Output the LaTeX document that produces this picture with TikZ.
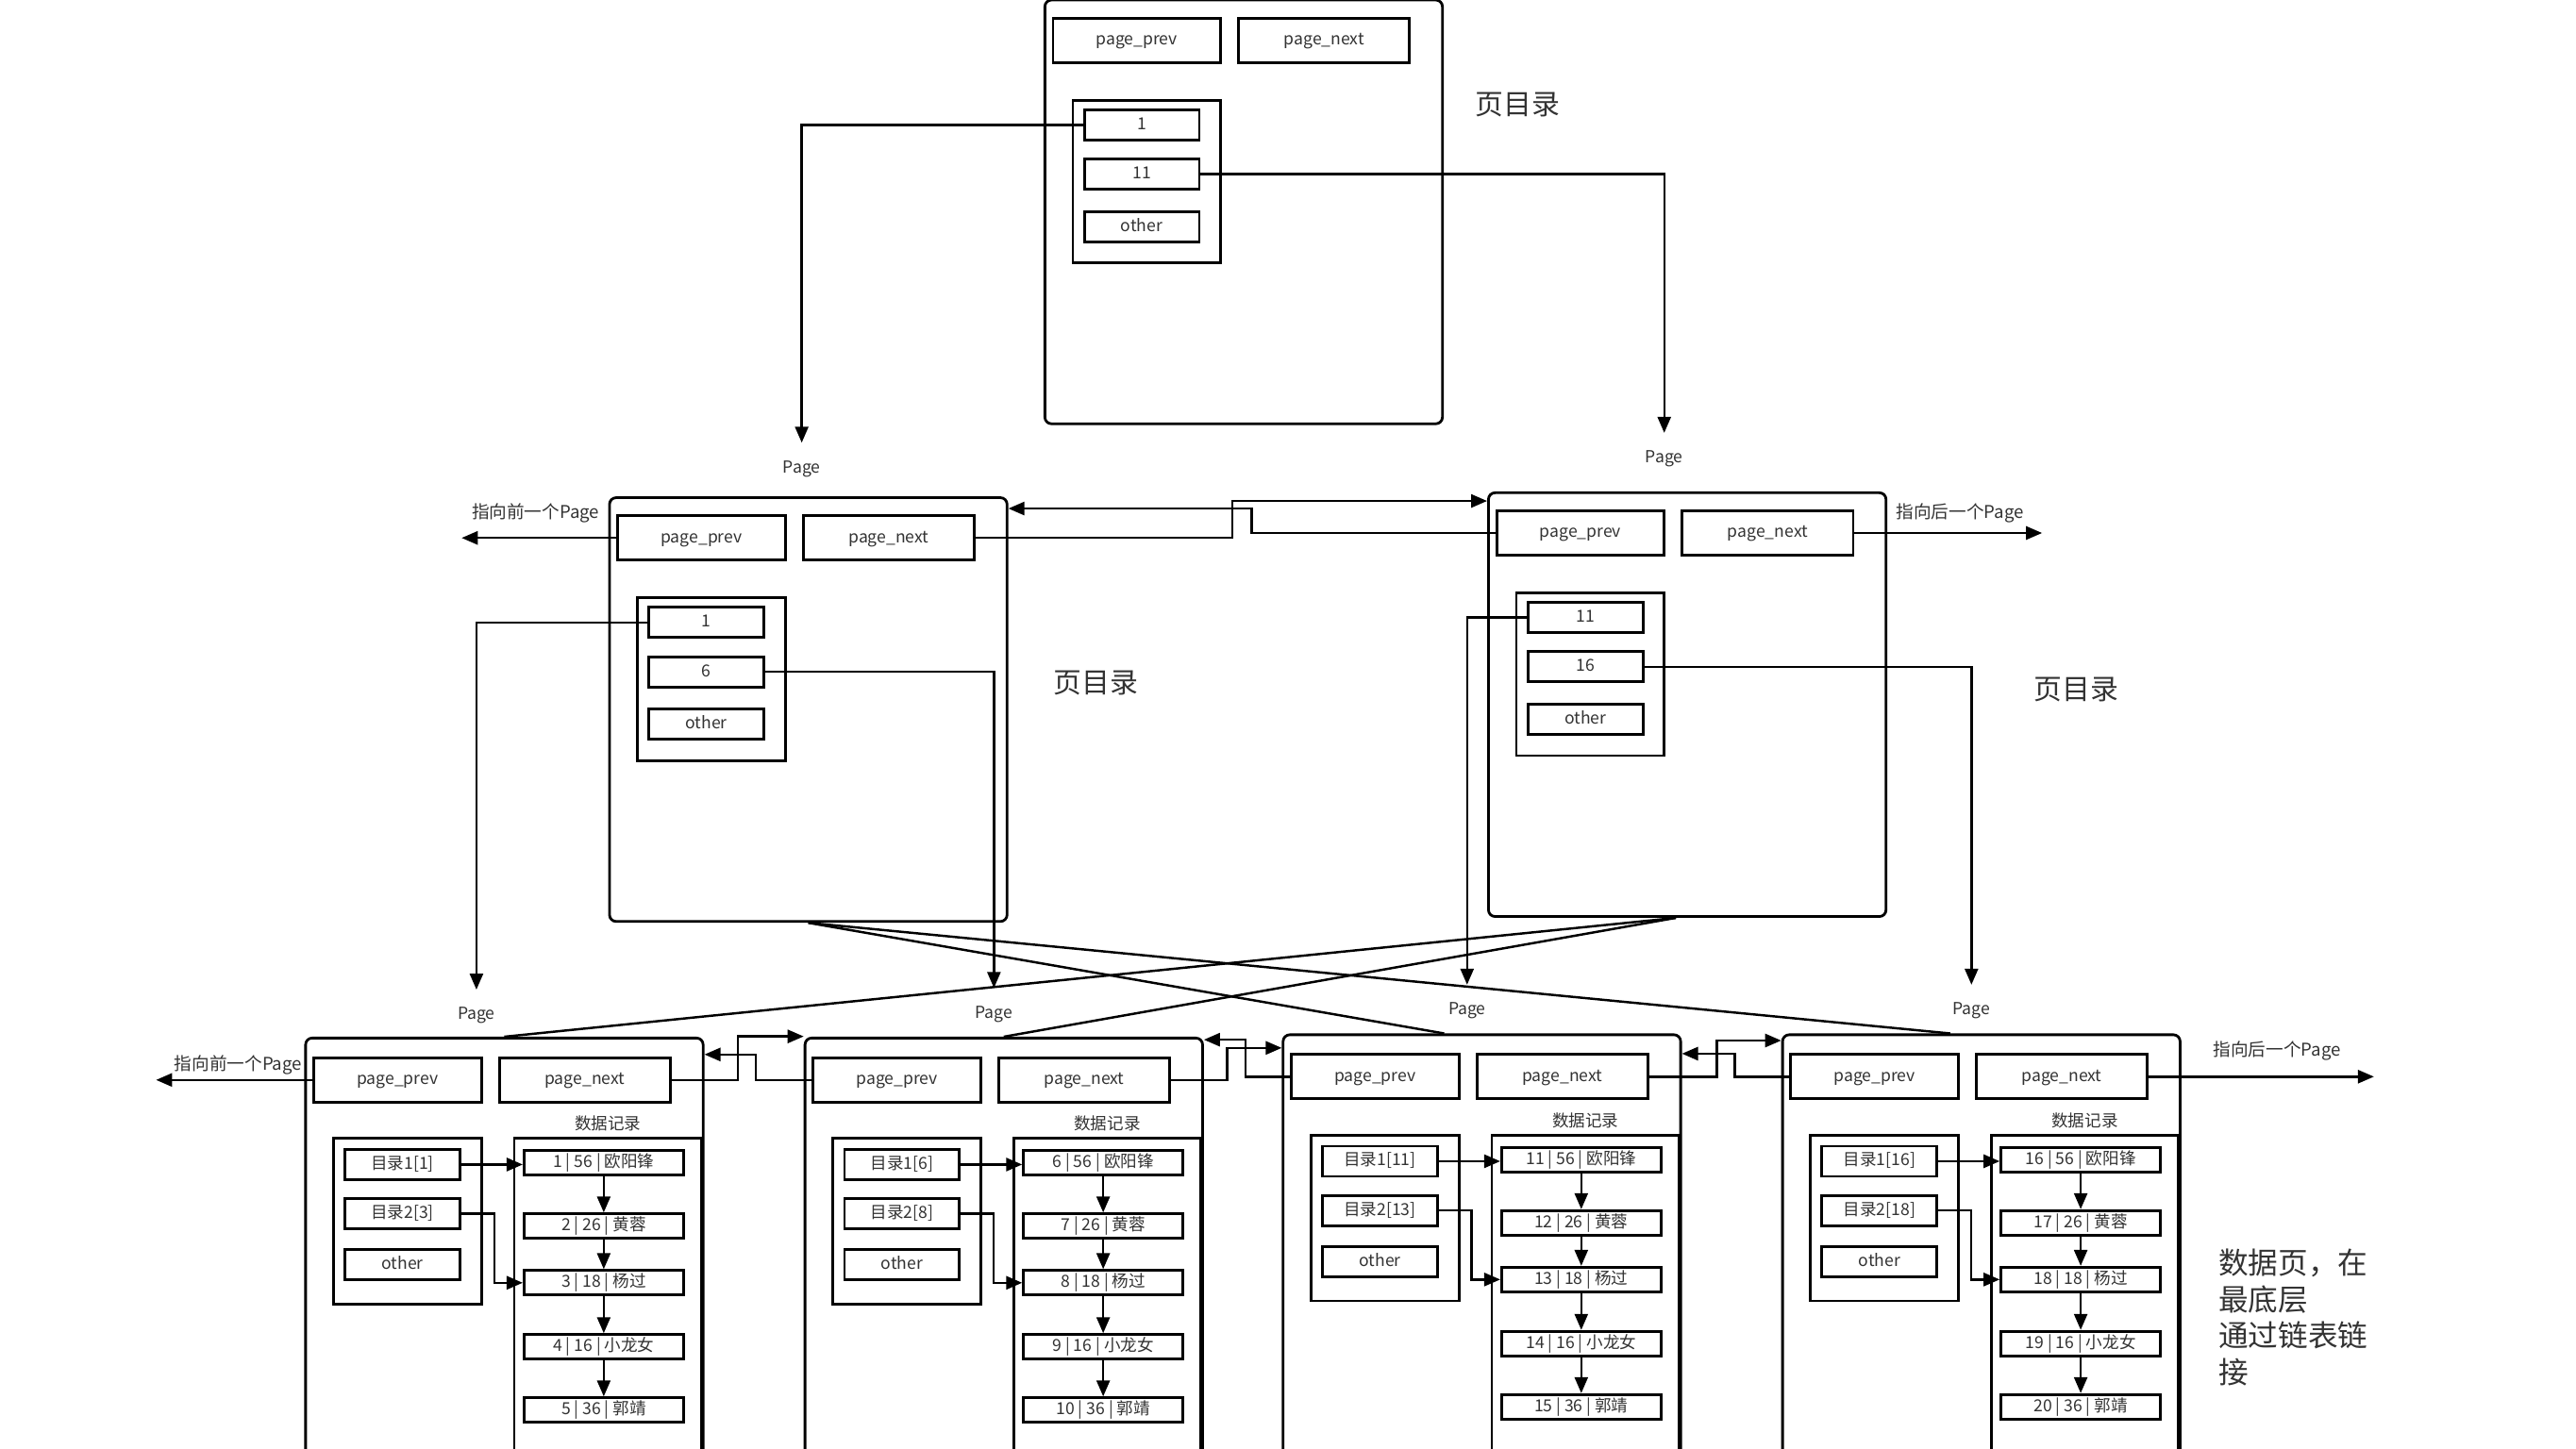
\documentclass[tikz,border=0pt]{standalone}
\usepackage{fontspec}
\setmainfont{Noto Sans CJK SC}
\usetikzlibrary{arrows.meta, positioning}

\begin{document}
\begin{tikzpicture}[x=0.1741mm, y=-0.1741mm,
        every node/.style={text=black!80, font=\fontsize{5}{6}\selectfont},
        mid/.style={text height=3.6pt, text depth=0.8pt},
        pagebox/.style={draw, line width=0.8pt, rounded corners=2pt, minimum width=42.13mm, inner sep=0pt},
        ptr/.style={draw, mid, line width=0.8pt, minimum height=4.7mm, inner sep=0pt},
        dirbox/.style={draw, line width=0.8pt, minimum width=15.67mm, inner sep=0pt},
        entry/.style={draw, mid, line width=0.8pt, minimum width=12.19mm, minimum height=3.2mm, inner sep=0pt},
        recbox/.style={draw, line width=0.8pt, minimum width=19.85mm, minimum height=40mm, inner sep=0pt},
        rec/.style={draw, mid, line width=0.8pt, minimum width=16.89mm, minimum height=2.61mm, inner sep=0pt},
        link/.style={line width=0.7pt, -{Triangle[length=1.7mm, width=1.4mm]}},
        plain/.style={line width=0.7pt},
        note/.style={font=\fontsize{8.5}{10}\selectfont},
        side/.style={mid, font=\fontsize{5.3}{6.5}\selectfont, inner sep=0pt},
        pagelbl/.style={mid, inner sep=1pt}
    ]
        \useasboundingbox (0,0) rectangle (1568,882);
        \fill[white] (0,0) rectangle (1568,882);

        % index pages
        \foreach \nm/\px/\py/\ka/\kb in {T/636/0/1/11, L/371/303/1/6, R/906/300/11/16} {
            \node[pagebox, minimum height=44.92mm] (\nm) at (\px+121,\py+129) {};
            \node[ptr, minimum width=17.76mm] (\nm prev) at (\px+56,\py+24.5) {page\_prev};
            \node[ptr, minimum width=18.11mm] (\nm next) at (\px+170,\py+24.5) {page\_next};
            \node[dirbox, minimum height=17.24mm] (\nm dir) at (\px+62,\py+110.5) {};
            \node[entry] (\nm a) at (\px+59,\py+76) {\ka};
            \node[entry] (\nm b) at (\px+59,\py+106) {\kb};
            \node[entry] (\nm c) at (\px+59,\py+138) {other};
        }
        \node[note] (Tnote) at (924,64) {页目录};
        \node[note] (Lnote) at (667,416) {页目录};
        \node[note] (Rnote) at (1264,420) {页目录};

        % data pages
        \foreach \k/\px/\py in {1/186/632, 2/490/632, 3/781/630, 4/1085/630} {
            \pgfmathtruncatemacro\first{5*\k-4}
            \pgfmathtruncatemacro\second{5*\k-2}
            \node[pagebox, minimum height=48.75mm] (b\k) at (\px+121,\py+140) {};
            \node[ptr, minimum width=17.76mm] (b\k prev) at (\px+56,\py+25.5) {page\_prev};
            \node[ptr, minimum width=18.11mm] (b\k next) at (\px+170,\py+25.5) {page\_next};
            \node[mid] (b\k lbl) at (\px+184,\py+53) {数据记录};
            \node[dirbox, minimum height=17.58mm] (b\k dir) at (\px+62,\py+111.5) {};
            \node[entry] (b\k a) at (\px+59,\py+77) {目录1[\first]};
            \node[entry] (b\k b) at (\px+59,\py+107) {目录2[\second]};
            \node[entry] (b\k c) at (\px+59,\py+138) {other};
            \node[recbox] (b\k recs) at (\px+184,\py+176) {};
            \foreach \nme/\age/\dy [count=\i] in {欧阳锋/56/76, 黄蓉/26/114.5, 杨过/18/149, 小龙女/16/188, 郭靖/36/226.5} {
                \pgfmathtruncatemacro\key{\first+\i-1}
                \node[rec] (b\k r\i) at (\px+181.5,\py+\dy) {\key~|~\age~|~\nme};
            }
            \foreach \j [evaluate=\j as \i using int(\j-1)] in {2,...,5}
                \draw[link] (b\k r\i.south) -- (b\k r\j.north);
            \draw[link] (b\k a.east) -- (b\k a.east -| b\k r1.west);
            \draw[link] (b\k b.east) -- ++(20,0) |- (b\k r3.west);
        }

        % Page labels and directory pointers
        \node[pagelbl] (pg1) at (488,285) {Page};
        \node[pagelbl] (pg2) at (1013,279) {Page};
        \node[pagelbl] (pg3) at (290,618) {Page};
        \node[pagelbl] (pg4) at (605,617) {Page};
        \node[pagelbl] (pg5) at (893,615) {Page};
        \node[pagelbl] (pg6) at (1200,615) {Page};
        \draw[link, shorten >=1.5mm] (Ta.west) -| (pg1.north);
        \draw[link, shorten >=1.5mm] (Tb.east) -| (pg2.north);
        \draw[link, shorten >=1.5mm] (La.west) -| (pg3.north);
        \draw[link, shorten >=1.5mm] (Lb.east) -| (pg4.north);
        \draw[link, shorten >=1.5mm] (Ra.west) -| (pg5.north);
        \draw[link, shorten >=1.5mm] (Rb.east) -| (pg6.north);

        % outer prev / next
        \coordinate (Lend) at (281,327.5);
        \coordinate (Rend) at (1243,324.5);
        \coordinate (b1end) at (95,657.5);
        \coordinate (b4end) at (1445,655.5);
        \draw[link] (Lprev.west) -- (Lend);
        \draw[link] (Rnext.east) -- (Rend);
        \draw[link] (b1prev.west) -- (b1end);
        \draw[link] (b4next.east) -- (b4end);
        \node[side] (Llbl) at (326,313) {指向前一个Page};
        \node[side] (Rlbl) at (1193,313) {指向后一个Page};
        \node[side] (b1side) at (145,649) {指向前一个Page};
        \node[side] (b4side) at (1386,640) {指向后一个Page};

        % links between neighbour pages
        \draw[link] (Lnext.east) -| (750,305) -- (R.west |- 0,305);
        \draw[link] (Rprev.west) -| (762,309.6) -- (L.east |- 0,309.6);
        \draw[link] (b1next.east) -| (449,631) -- (b2.west |- 0,631);
        \draw[link] (b2prev.west) -| (460,642) -- (b1.east |- 0,642);
        \draw[link] (b2next.east) -| (747,638) -- (b3.west |- 0,638);
        \draw[link] (b3prev.west) -| (758,633) -- (b2.east |- 0,633);
        \draw[link] (b3next.east) -| (1045,633.5) -- (b4.west |- 0,633.5);
        \draw[link] (b4prev.west) -| (1056,641.5) -- (b3.east |- 0,641.5);

        % index pages to data pages
        \draw[plain] (L.south) -- ([xshift=-4mm]b3.north);
        \draw[plain] (L.south) -- ([xshift=-3.3mm]b4.north);
        \draw[plain] ([xshift=-1.2mm]R.south) -- (b1.north);
        \draw[plain] ([xshift=-1.2mm]R.south) -- (b2.north);

        \node[font=\fontsize{9}{11}\selectfont, align=left, anchor=north west, inner sep=0pt] (leafnote)
            at (1350,760) {数据页，在\\最底层\\通过链表链\\接};
    \end{tikzpicture}
\end{document}
